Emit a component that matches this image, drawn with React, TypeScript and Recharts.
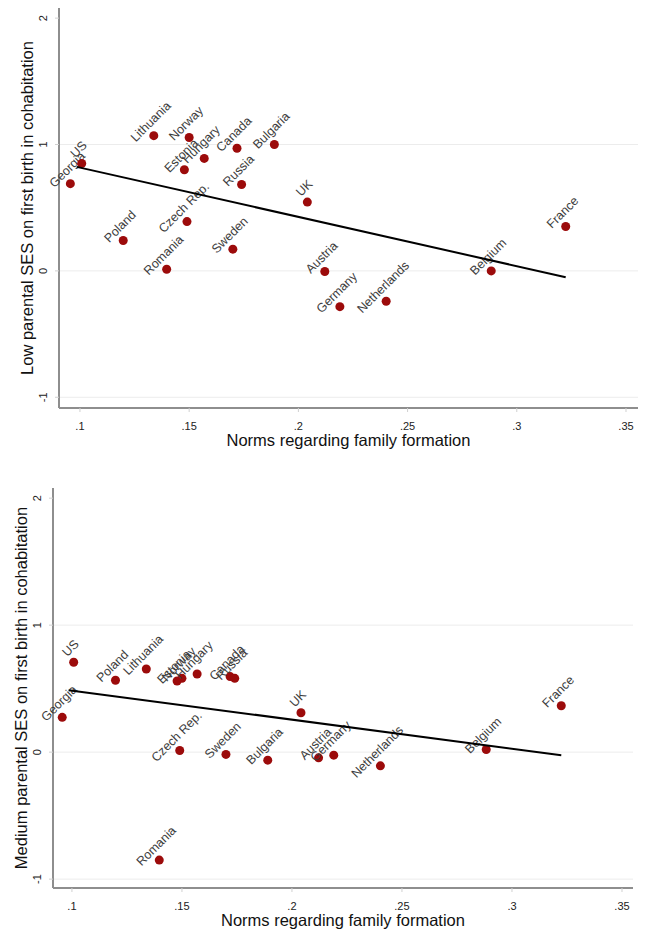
import { ReferenceLine, Scatter, ScatterChart, XAxis, YAxis } from 'recharts';

const countries = [
  'Georgia', 'US', 'Lithuania', 'Norway', 'Estonia', 'Hungary', 'Canada', 'Bulgaria', 'Russia', 'UK',
  'Poland', 'Czech Rep.', 'Sweden', 'Romania', 'Austria', 'France', 'Belgium', 'Germany', 'Netherlands',
];
const normsX = [
  0.0956, 0.1008, 0.1338, 0.15, 0.1478, 0.1569, 0.1719, 0.189, 0.174, 0.2041,
  0.1198, 0.149, 0.17, 0.1397, 0.2121, 0.3224, 0.2883, 0.219, 0.2402,
];
const lowSes = [
  0.69, 0.85, 1.07, 1.055, 0.8, 0.89, 0.97, 1.0, 0.683, 0.544,
  0.24, 0.39, 0.172, 0.013, -0.005, 0.351, 0.0, -0.283, -0.24,
];
const mediumSes = [
  0.274, 0.708, 0.655, 0.581, 0.56, 0.615, 0.595, -0.063, 0.581, 0.31,
  0.566, 0.013, -0.018, -0.85, -0.045, 0.365, 0.021, -0.024, -0.108,
];

// fitted line end points
const fitX = [0.0985, 0.3224];
const fitLow = [0.823, -0.05];
const fitMedium = [0.488, -0.024];

const xTicks = [0.1, 0.15, 0.2, 0.25, 0.3, 0.35];
const yTicks = [-1, 0, 1, 2];
const gridValues = [-1, 0, 1];

const FONT = '"Liberation Sans", Arial, sans-serif';
const DOT = '#9c0b0b';
const AXIS = '#8e8e8e';

function CountryDot(props: any) {
  const { cx, cy, payload } = props;
  if (cx == null || cy == null) return <g />;
  const lx = cx - 3;
  const ly = cy - 14;
  return (
    <g>
      <circle cx={cx} cy={cy} r={4.5} fill={DOT} />
      <text
        x={lx}
        y={ly}
        textAnchor="middle"
        dominantBaseline="central"
        transform={`rotate(-45 ${lx} ${ly})`}
        fontSize={12.5}
        fontFamily={FONT}
        fill="#3d3d3d"
      >
        {payload.name}
      </text>
    </g>
  );
}

function YTick(props: any) {
  const { x, y, payload } = props;
  return (
    <text x={x} y={y} textAnchor="middle" transform={`rotate(-90 ${x} ${y})`} fontSize={11} fontFamily={FONT} fill="#222">
      {payload.value}
    </text>
  );
}

interface PanelProps {
  ses: number[];
  fit: number[];
  yTitle: string;
  height: number;
  margin: { top: number; right: number; bottom: number; left: number };
  xDomain: [number, number];
  yDomain: [number, number];
}

function Panel({ ses, fit, yTitle, height, margin, xDomain, yDomain }: PanelProps) {
  const data = countries.map((name, i) => ({ name, x: normsX[i], y: ses[i] }));
  const fitData = fitX.map((x, i) => ({ x, y: fit[i] }));
  const plotLeft = margin.left + 30;
  const plotRight = 646 - margin.right;
  const plotTop = margin.top;
  const plotBottom = height - margin.bottom - 30;
  const cx = (plotLeft + plotRight) / 2;
  const cy = (plotTop + plotBottom) / 2;

  return (
    <div style={{ position: 'relative', width: 646, height }}>
      <ScatterChart width={646} height={height} margin={margin}>
        {gridValues.map((v) => (
          <ReferenceLine key={v} y={v} stroke="#ececec" strokeWidth={1} />
        ))}
        <XAxis
          type="number"
          dataKey="x"
          domain={xDomain}
          ticks={xTicks}
          height={30}
          tickFormatter={(v: number) => String(v).replace(/^0/, '')}
          axisLine={{ stroke: AXIS, strokeWidth: 2 }}
          tickLine={{ stroke: '#d0d0d0' }}
          tickSize={4}
          tickMargin={10}
          tick={{ fill: '#222', fontSize: 11, fontFamily: FONT }}
        />
        <YAxis
          type="number"
          dataKey="y"
          domain={yDomain}
          ticks={yTicks}
          width={30}
          axisLine={{ stroke: AXIS, strokeWidth: 2 }}
          tickLine={{ stroke: '#d0d0d0' }}
          tickSize={4}
          tickMargin={8}
          tick={<YTick />}
        />
        <Scatter data={data} shape={<CountryDot />} isAnimationActive={false} />
        <Scatter
          data={fitData}
          line={{ stroke: '#000', strokeWidth: 2 }}
          shape={() => <g />}
          isAnimationActive={false}
        />
      </ScatterChart>
      <svg width={646} height={height} style={{ position: 'absolute', left: 0, top: 0, pointerEvents: 'none' }}>
        <text x={cx} y={plotBottom + 38} textAnchor="middle" fontSize={16.5} fontFamily={FONT} fill="#111">
          Norms regarding family formation
        </text>
        <text
          x={plotLeft - 26}
          y={cy}
          textAnchor="middle"
          transform={`rotate(-90 ${plotLeft - 26} ${cy})`}
          fontSize={16.5}
          fontFamily={FONT}
          fill="#111"
        >
          {yTitle}
        </text>
      </svg>
    </div>
  );
}

export default function App() {
  return (
    <div style={{ position: 'absolute', left: 0, top: 0, width: 646, height: 931, overflow: 'hidden', background: '#fff' }}>
      <Panel
        ses={lowSes}
        fit={fitLow}
        yTitle="Low parental SES on first birth in cohabitation"
        height={480}
        margin={{ top: 8, right: 8, bottom: 42, left: 29 }}
        xDomain={[0.0904, 0.3555]}
        yDomain={[-1.085, 2.08]}
      />
      <Panel
        ses={mediumSes}
        fit={fitMedium}
        yTitle="Medium parental SES on first birth in cohabitation"
        height={451}
        margin={{ top: 8, right: 13, bottom: 13, left: 23 }}
        xDomain={[0.0914, 0.355]}
        yDomain={[-1.07, 2.08]}
      />
    </div>
  );
}
